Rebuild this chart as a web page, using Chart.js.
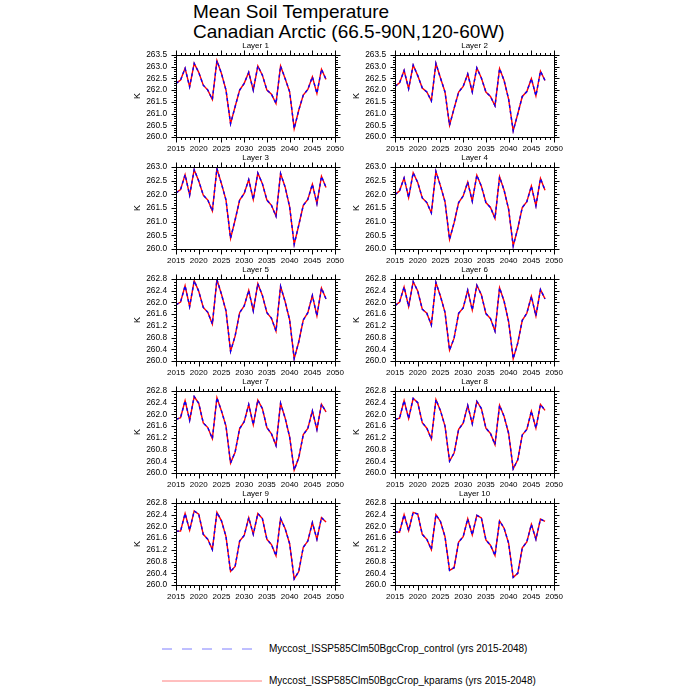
<html>

<head>
    <title>Mean Soil Temperature</title>
    <script src="https://cdn.jsdelivr.net/npm/chart.js"></script>
    <style>
        body {
            margin: 0;
            background: #fff;
            font-family: "Liberation Sans", Arial, sans-serif;
        }

        #page {
            position: relative;
            width: 700px;
            height: 700px;
        }

        .panel {
            position: absolute;
        }

        .title {
            position: absolute;
            left: 193px;
            top: 2px;
            font-size: 19px;
            line-height: 20px;
            white-space: nowrap;
        }

        .legend-line {
            position: absolute;
            left: 158px;
            width: 110px;
            height: 10px;
        }

        .legend-text {
            position: absolute;
            left: 269px;
            font-size: 10px;
            line-height: 12px;
            white-space: nowrap;
        }
    </style>
</head>

<body>
    <div id="page">
        <div class="title">Mean Soil Temperature<br>Canadian Arctic (66.5-90N,120-60W)</div>

        <svg class="legend-line" style="top: 644px;">
            <line x1="4" y1="5" x2="99" y2="5" stroke="#7f7fff" stroke-width="1" stroke-dasharray="10 10" />
        </svg>
        <div class="legend-text" style="top: 643px;">Myccost_ISSP585Clm50BgcCrop_control (yrs 2015-2048)</div>

        <svg class="legend-line" style="top: 676px;">
            <line x1="4" y1="5" x2="104" y2="5" stroke="#ff7f7f" stroke-width="1" />
        </svg>
        <div class="legend-text" style="top: 675px;">Myccost_ISSP585Clm50BgcCrop_kparams (yrs 2015-2048)</div>
    </div>
</body>
<script>
    const years = [2015, 2016, 2017, 2018, 2019, 2020, 2021, 2022, 2023, 2024,
        2025, 2026, 2027, 2028, 2029, 2030, 2031, 2032, 2033, 2034,
        2035, 2036, 2037, 2038, 2039, 2040, 2041, 2042, 2043, 2044,
        2045, 2046, 2047, 2048]

    // mean soil temperature (K) per layer
    const layer1 = [262.29, 262.43, 262.93, 262.14, 263.14, 262.76, 262.21, 262.00, 261.60, 263.26,
        262.71, 262.00, 260.57, 261.29, 262.00, 262.29, 262.76, 262.00, 263.03, 262.64,
        262.00, 261.83, 261.43, 263.03, 262.50, 261.93, 260.36, 261.14, 261.79, 262.03,
        262.57, 261.86, 262.89, 262.46]
    const layer2 = [262.16, 262.31, 262.84, 262.06, 263.07, 262.62, 262.09, 261.92, 261.54, 263.14,
        262.52, 261.92, 260.50, 261.22, 261.92, 262.16, 262.69, 261.92, 262.95, 262.52,
        261.92, 261.73, 261.33, 262.92, 262.41, 261.61, 260.26, 260.98, 261.73, 261.94,
        262.49, 261.76, 262.81, 262.41]
    const layer3 = [262.05, 262.17, 262.72, 261.97, 262.90, 262.49, 261.97, 261.79, 261.39, 262.94,
        262.39, 261.79, 260.39, 261.06, 261.79, 262.03, 262.54, 261.81, 262.78, 262.39,
        261.79, 261.60, 261.20, 262.76, 262.27, 261.54, 260.17, 260.87, 261.60, 261.81,
        262.37, 261.66, 262.66, 262.25]
    const layer4 = [261.99, 262.13, 262.60, 261.88, 262.79, 262.43, 261.87, 261.70, 261.32, 262.84,
        262.31, 261.73, 260.35, 260.96, 261.70, 261.94, 262.45, 261.75, 262.70, 262.30,
        261.70, 261.52, 261.12, 262.64, 262.15, 261.45, 260.11, 260.75, 261.52, 261.73,
        262.30, 261.58, 262.58, 262.15]
    const layer5 = [261.92, 262.01, 262.57, 261.86, 262.74, 262.38, 261.83, 261.66, 261.26, 262.78,
        262.28, 261.71, 260.33, 260.85, 261.65, 261.88, 262.41, 261.71, 262.64, 262.24,
        261.65, 261.46, 261.02, 262.55, 262.03, 261.40, 260.08, 260.65, 261.40, 261.65,
        262.24, 261.54, 262.49, 262.12]
    const layer6 = [261.89, 262.01, 262.53, 261.86, 262.71, 262.39, 261.77, 261.63, 261.23, 262.68,
        262.21, 261.66, 260.37, 260.78, 261.63, 261.81, 262.42, 261.74, 262.59, 262.26,
        261.62, 261.45, 261.02, 262.50, 262.04, 261.34, 260.08, 260.61, 261.39, 261.63,
        262.21, 261.54, 262.44, 262.12]
    const layer7 = [261.83, 261.89, 262.47, 261.80, 262.61, 262.38, 261.71, 261.55, 261.17, 262.57,
        262.12, 261.60, 260.34, 260.71, 261.52, 261.75, 262.34, 261.65, 262.49, 262.20,
        261.55, 261.34, 260.94, 262.38, 261.88, 261.23, 260.10, 260.52, 261.31, 261.52,
        262.12, 261.48, 262.35, 262.09]
    const layer8 = [261.83, 261.87, 262.47, 261.86, 262.55, 262.40, 261.72, 261.53, 261.16, 262.51,
        262.13, 261.60, 260.41, 260.68, 261.49, 261.70, 262.31, 261.68, 262.45, 262.20,
        261.53, 261.35, 260.97, 262.31, 261.93, 261.35, 260.14, 260.45, 261.30, 261.49,
        262.11, 261.53, 262.34, 262.14]
    const layer9 = [261.84, 261.84, 262.44, 261.87, 262.53, 262.42, 261.73, 261.56, 261.21, 262.48,
        262.19, 261.65, 260.46, 260.63, 261.50, 261.69, 262.30, 261.73, 262.44, 262.27,
        261.56, 261.38, 261.00, 262.27, 261.93, 261.41, 260.21, 260.46, 261.29, 261.50,
        262.13, 261.56, 262.30, 262.15]
    const layer10 = [261.82, 261.80, 262.40, 261.86, 262.48, 262.42, 261.73, 261.56, 261.21, 262.40,
        262.17, 261.65, 260.50, 260.59, 261.47, 261.65, 262.26, 261.71, 262.38, 262.29,
        261.54, 261.36, 261.01, 262.19, 261.94, 261.42, 260.26, 260.40, 261.27, 261.47,
        262.07, 261.56, 262.25, 262.17]

    // the two runs are indistinguishable at this scale
    const control = [layer1, layer2, layer3, layer4, layer5, layer6, layer7, layer8, layer9, layer10]
    const kparams = [layer1, layer2, layer3, layer4, layer5, layer6, layer7, layer8, layer9, layer10]

    const yMins = [260, 260, 260, 260, 260, 260, 260, 260, 260, 260]
    const yMaxs = [263.5, 263.5, 263, 263, 262.8, 262.8, 262.8, 262.8, 262.8, 262.8]
    const ySteps = [0.5, 0.5, 0.5, 0.5, 0.4, 0.4, 0.4, 0.4, 0.4, 0.4]

    const colLeft = [176, 395]
    const rowTop = [55, 167, 279, 391, 503]
    const plotW = 163
    const plotH = 82
    const marginL = 50
    const marginT = 14
    const marginR = 12
    const marginB = 20

    // box, outward ticks (major + minor) on all four sides, and the panel title
    const frameTicks = {
        id: 'frameTicks',
        afterDraw(chart, args, opts) {
            const { ctx, chartArea: a, scales: { x, y } } = chart
            const L = Math.round(a.left) + 0.5
            const R = Math.round(a.right) + 0.5
            const T = Math.round(a.top) + 0.5
            const B = Math.round(a.bottom) + 0.5
            ctx.save()
            ctx.strokeStyle = '#000'
            ctx.lineWidth = 1
            ctx.strokeRect(L, T, R - L, B - T)
            ctx.beginPath()
            for (let v = 2015; v <= 2050; v++) {
                const px = Math.round(x.getPixelForValue(v)) + 0.5
                const len = v % 5 === 0 ? 5 : 2.5
                ctx.moveTo(px, B)
                ctx.lineTo(px, B + len)
                ctx.moveTo(px, T)
                ctx.lineTo(px, T - len)
            }
            const n = Math.round((y.max - y.min) / 0.1)
            const every = Math.round(opts.step / 0.1)
            for (let k = 0; k <= n; k++) {
                const py = Math.round(y.getPixelForValue(y.min + k * 0.1)) + 0.5
                const len = k % every === 0 ? 5 : 2.5
                ctx.moveTo(L, py)
                ctx.lineTo(L - len, py)
                ctx.moveTo(R, py)
                ctx.lineTo(R + len, py)
            }
            ctx.stroke()
            ctx.fillStyle = '#000'
            ctx.font = '8px "Liberation Sans"'
            ctx.textAlign = 'center'
            ctx.textBaseline = 'middle'
            ctx.fillText(opts.text, (a.left + a.right) / 2, a.top - 9)
            ctx.restore()
        }
    }

    const page = document.getElementById('page')

    for (let i = 0; i < 10; i++) {
        const canvas = document.createElement('canvas')
        const w = marginL + plotW + marginR
        const h = marginT + plotH + marginB
        canvas.width = w
        canvas.height = h
        canvas.className = 'panel'
        canvas.style.left = (colLeft[i % 2] - marginL) + 'px'
        canvas.style.top = (rowTop[Math.floor(i / 2)] - marginT) + 'px'
        canvas.style.width = w + 'px'
        canvas.style.height = h + 'px'
        page.appendChild(canvas)

        new Chart(canvas, {
            type: 'line',
            data: {
                datasets: [{
                    label: 'control',
                    data: years.map((yr, j) => ({ x: yr, y: control[i][j] })),
                    borderColor: '#0000ff',
                    borderWidth: 1.4,
                    borderDash: [3, 3],
                    pointRadius: 0,
                    tension: 0
                }, {
                    label: 'kparams',
                    data: years.map((yr, j) => ({ x: yr, y: kparams[i][j] })),
                    borderColor: '#ff0000',
                    borderWidth: 1.4,
                    pointRadius: 0,
                    tension: 0
                }]
            },
            options: {
                responsive: false,
                animation: false,
                events: [],
                layout: { padding: { left: 0, top: marginT, right: marginR, bottom: 0 } },
                plugins: {
                    legend: { display: false },
                    tooltip: { enabled: false },
                    title: { display: false },
                    frameTicks: { text: 'Layer ' + (i + 1), step: ySteps[i] }
                },
                scales: {
                    x: {
                        type: 'linear',
                        min: 2015,
                        max: 2050,
                        afterFit: (s) => { s.height = marginB },
                        grid: { display: false, drawTicks: false },
                        border: { display: false },
                        ticks: {
                            stepSize: 5,
                            padding: 7,
                            maxRotation: 0,
                            autoSkip: false,
                            color: '#000',
                            font: { size: 8, family: 'Liberation Sans' },
                            callback: (v) => String(v)
                        }
                    },
                    y: {
                        min: yMins[i],
                        max: yMaxs[i],
                        afterFit: (s) => { s.width = marginL },
                        grid: { display: false, drawTicks: false },
                        border: { display: false },
                        ticks: {
                            stepSize: ySteps[i],
                            padding: 9,
                            autoSkip: false,
                            color: '#000',
                            font: { size: 8.3, family: 'Liberation Sans' },
                            callback: (v) => v.toFixed(1)
                        },
                        title: {
                            display: true,
                            text: 'K',
                            color: '#000',
                            font: { size: 9, family: 'Liberation Sans' },
                            padding: { top: 6, bottom: 0 }
                        }
                    }
                }
            },
            plugins: [frameTicks]
        })
    }
</script>

</html>
